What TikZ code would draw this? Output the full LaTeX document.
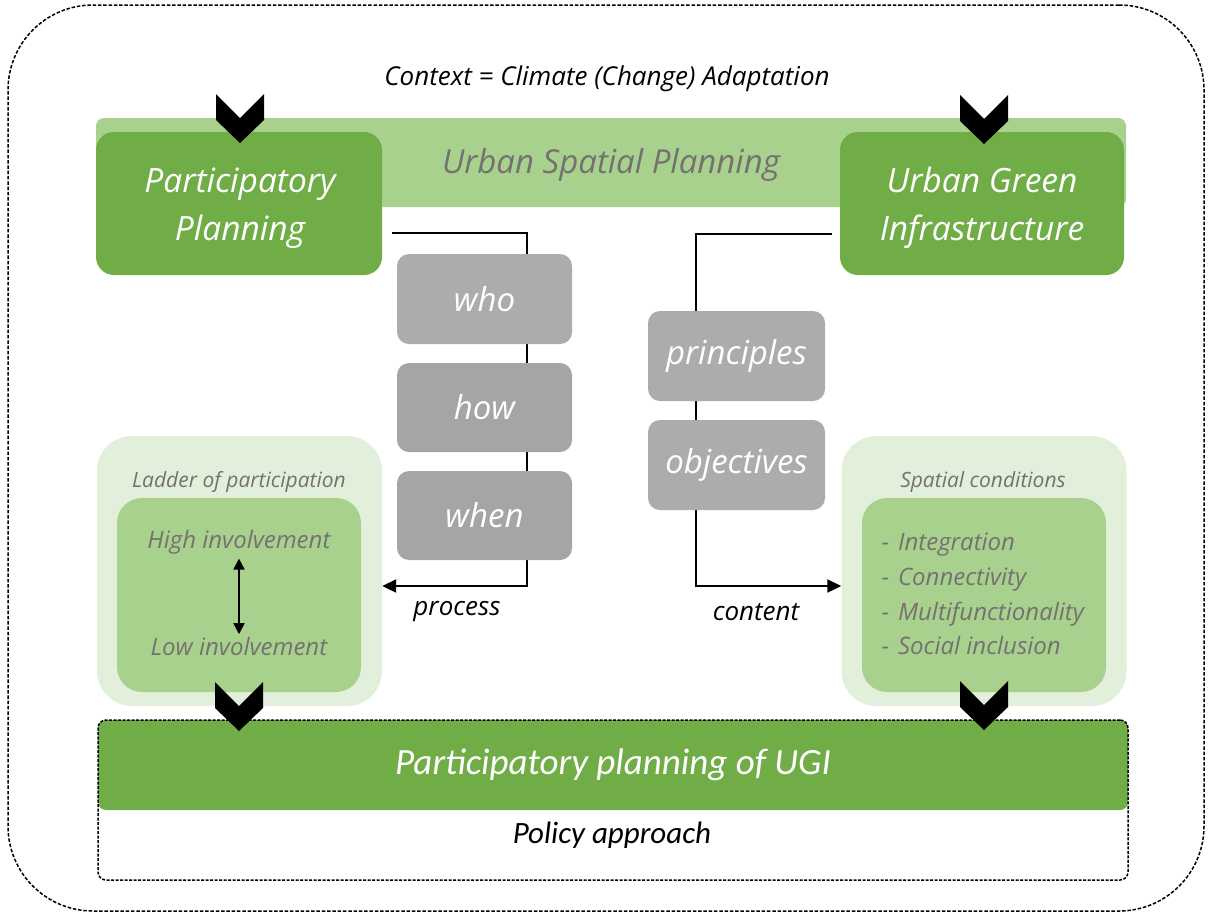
\documentclass[tikz,border=0pt]{standalone}
\usepackage{fontspec}
\setmainfont{Open Sans}
\newfontfamily\narrowfont{Carlito}
\usetikzlibrary{arrows.meta}
\definecolor{dgreen}{HTML}{70AD47}
\definecolor{lgreen}{HTML}{A9D18E}
\definecolor{pgreen}{HTML}{E2EFDA}
\definecolor{greyA}{HTML}{AEABAB}
\definecolor{greyB}{HTML}{A5A5A5}
\definecolor{txtgrey}{HTML}{767171}
\newcommand\fsz[2]{\fontsize{#1}{#2}\selectfont}
\begin{document}
\begin{tikzpicture}[x=1pt,y=-1pt,
  box/.style={rectangle,inner sep=0pt,align=center},
  mainbox/.style={box,fill=dgreen,rounded corners=18pt},
  maintext/.style={text=white,align=center,font=\itshape\fsz{33.5}{48}},
  qbox/.style={box,rounded corners=12pt,text=white,font=\itshape\fsz{33}{36},
    minimum height=89pt},
  outerpale/.style={box,fill=pgreen,rounded corners=35pt,minimum width=285pt,minimum height=270pt},
  innergreen/.style={box,fill=lgreen,rounded corners=25pt,minimum width=244pt,minimum height=194pt},
  greytext/.style={text=txtgrey,font=\itshape\fsz{24}{28}},
  smallgrey/.style={text=txtgrey,font=\itshape\fsz{21}{24}},
  label/.style={font=\itshape\fsz{26}{30}},
  conn/.style={line width=2pt,-{Triangle[length=14pt,width=13pt]}},
  chevron/.pic={\fill (-24,-49) -- (0,-25) -- (24,-49) -- (24,-23) -- (0,0) -- (-24,-23) -- cycle;}
]
\useasboundingbox (0,0) rectangle (1212,914);

% outer frame
\node[box,draw,dashed,dash pattern=on 3.5pt off 1.8pt,line width=1.5pt,rounded corners=85pt,
  minimum width=1196pt,minimum height=906pt] (frame) at (606,458) {};
\node[font=\itshape\fsz{26}{30}] (context) at (607,79) {Context = Climate (Change) Adaptation};

% planning band and the two pillars
\node[box,fill=lgreen,rounded corners=8pt,minimum width=1030pt,minimum height=89pt] (usp) at (611,162.5) {};
\node[text=txtgrey,font=\itshape\fsz{33}{36}] (uspt) at (611,165) {Urban Spatial Planning};
\node[mainbox,minimum width=286pt,minimum height=143pt] (pp) at (239,203.5) {};
\node[maintext] (ppt) at (240,208) {Participatory\\Planning};
\node[mainbox,minimum width=284pt,minimum height=143pt] (ugi) at (982,203.5) {};
\node[maintext] (ugit) at (982,208) {Urban Green\\Infrastructure};

% ladder of participation
\node[outerpale] (ladder) at (239.5,571) {};
\node[innergreen] (ladderin) at (239,595) {};
\node[smallgrey] (laddert) at (239,482) {Ladder of participation};
\node[greytext] (high) at (239,542) {High involvement};
\node[greytext] (low) at (239,646) {Low involvement};
\draw[line width=1.5pt,{Triangle[length=11pt,width=11pt]}-{Triangle[length=11pt,width=11pt]}]
  (high.south) ++(0,1) -- ([yshift=-1pt]low.north);

% spatial conditions
\node[outerpale] (spatial) at (984,571) {};
\node[innergreen] (spatialin) at (984,595) {};
\node[smallgrey] (spatialt) at (983,482) {Spatial conditions};
\node[greytext,align=left,anchor=west,font=\itshape\fsz{24}{34.7}] (items) at (878,594)
  {-\hspace{9pt}Integration\\-\hspace{9pt}Connectivity\\-\hspace{9pt}Multifunctionality\\-\hspace{9pt}Social inclusion};

% process and content connectors
\coordinate (pstart) at (392,233);
\coordinate (pturn) at (527,586);
\coordinate (cstart) at (832,234);
\coordinate (cturn) at (696,586);
\draw[conn] (pstart) -| (pturn) -- (ladder.east |- pturn);
\draw[conn] (cstart) -| (cturn) -- (spatial.west |- cturn);
\node[label] (process) at (457,612) {process};
\node[label] (content) at (756,612) {content};

% questions and aspects
\node[qbox,fill=greyA,minimum width=175pt,minimum height=90pt] (who) at (484.5,299) {who};
\node[qbox,fill=greyB,minimum width=175pt] (how) at (484.5,407.5) {how};
\node[qbox,fill=greyB,minimum width=175pt] (when) at (484.5,515.5) {when};
\node[qbox,fill=greyA,minimum width=177pt,minimum height=90pt] (principles) at (736.5,356) {principles};
\node[qbox,fill=greyA,minimum width=177pt,minimum height=90pt] (objectives) at (736.5,465) {objectives};

% policy approach
\node[box,fill=dgreen,rounded corners=8pt,minimum width=1030pt,minimum height=90pt,
  text=white,font=\narrowfont\itshape\fsz{37}{40}] (ppugi) at (613,765) {Participatory planning of UGI};
\node[box,draw,dashed,dash pattern=on 3pt off 1.5pt,line width=1.5pt,rounded corners=8pt,
  minimum width=1030pt,minimum height=160pt] (policy) at (613,800) {};
\node[font=\narrowfont\itshape\fsz{31}{34}] (policyt) at (612,835) {Policy approach};

% chevrons
\pic at (240,143) {chevron};
\pic at (984,144) {chevron};
\pic at (239,731) {chevron};
\pic at (984,730) {chevron};
\end{tikzpicture}
\end{document}
